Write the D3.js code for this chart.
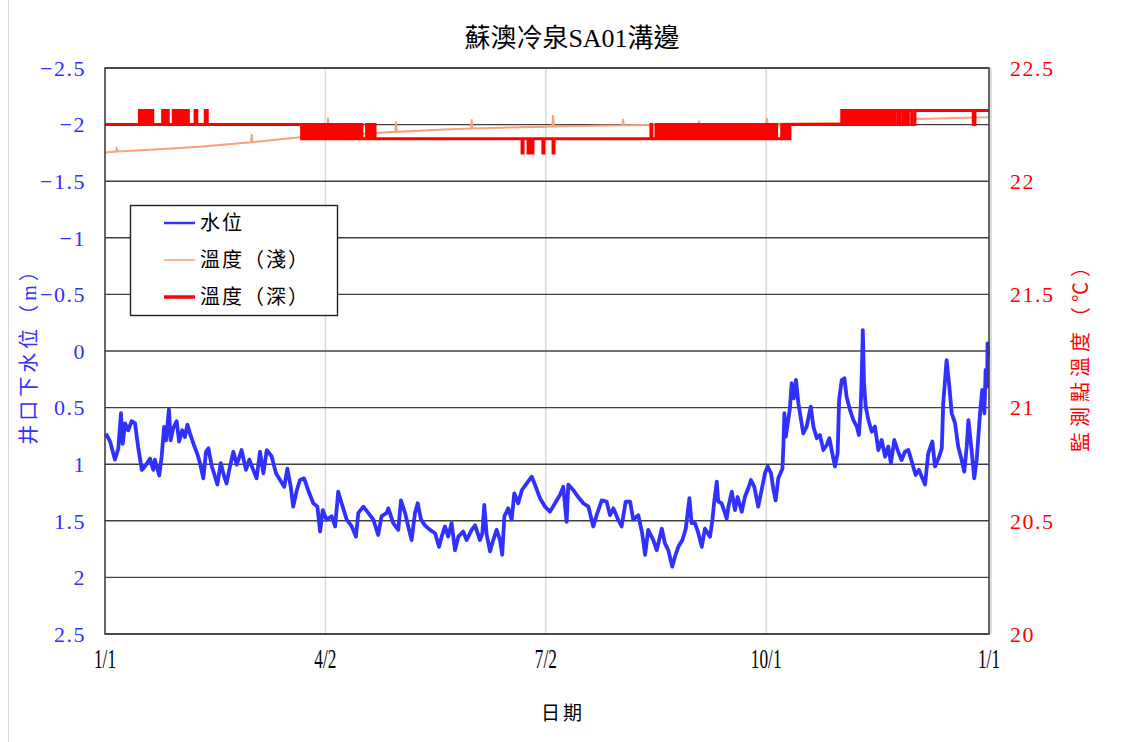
<!DOCTYPE html>
<html lang="zh-Hant">
<head>
<meta charset="UTF-8">
<title>蘇澳冷泉SA01溝邊</title>
<script src="https://cdn.jsdelivr.net/npm/d3@7"></script>
<style>
  body { margin: 0; background: #fff; }
  svg text { font-family: "Liberation Serif", "Noto Sans CJK TC", serif; }
</style>
</head>
<body>
<svg id="chart" width="1137" height="742"></svg>
<script>
// ---- values (x = day of year, 0 = 1/1) ----
var tickDays = [0, 91, 182, 273, 365];
var tickLabels = ["1/1", "4/2", "7/2", "10/1", "1/1"];
var levelTicks = [-2.5, -2, -1.5, -1, -0.5, 0, 0.5, 1, 1.5, 2, 2.5];
var tempTicks = [20, 20.5, 21, 21.5, 22, 22.5];
var seriesNames = ["水位", "溫度（淺）", "溫度（深）"];

// 井口下水位 (m)
var waterLevel = [
  [0.4,0.73],[2.1,0.80],[4.1,0.96],[5.5,0.86],[6.6,0.55],[7.3,0.82],[8.3,0.64],[9.6,0.70],
  [11.0,0.62],[12.4,0.64],[13.7,0.85],[15.2,1.05],[16.5,1.02],[18.6,0.95],[19.9,1.05],[20.6,0.96],
  [22.4,1.10],[23.4,0.93],[24.4,0.67],[25.2,0.79],[26.4,0.515],[27.1,0.79],[28.2,0.68],[29.6,0.62],
  [30.6,0.80],[31.9,0.70],[33.0,0.76],[34.0,0.65],[35.1,0.73],[36.7,0.83],[38.3,0.92],[39.2,0.99],
  [40.6,1.125],[41.7,0.89],[42.7,0.86],[44.1,1.02],[45.0,1.08],[46.4,1.18],[47.8,0.99],[49.1,1.10],
  [50.2,1.17],[51.6,1.02],[53.0,0.89],[54.4,1.005],[56.4,0.875],[58.2,1.05],[59.6,0.96],[61.2,1.05],
  [62.6,1.125],[64.0,0.89],[65.4,1.08],[66.8,0.875],[68.8,0.93],[70.6,1.08],[72.3,1.14],[74.0,1.20],
  [75.3,1.04],[76.7,1.20],[77.7,1.375],[79.2,1.23],[80.5,1.14],[82.2,1.125],[83.9,1.23],[86.0,1.345],
  [87.7,1.375],[88.8,1.595],[89.9,1.405],[91.5,1.49],[93.6,1.46],[95.0,1.55],[96.3,1.243],[97.7,1.345],
  [99.8,1.49],[101.9,1.55],[103.6,1.64],[104.6,1.43],[106.7,1.375],[108.7,1.43],[110.8,1.49],[112.8,1.625],
  [114.2,1.46],[116.3,1.43],[117.0,1.39],[119.0,1.52],[121.1,1.58],[122.2,1.32],[123.9,1.43],[125.2,1.55],
  [126.6,1.67],[128.0,1.43],[129.1,1.345],[130.5,1.49],[132.1,1.54],[134.2,1.58],[136.3,1.61],[137.9,1.73],
  [139.0,1.64],[140.4,1.55],[141.7,1.64],[143.1,1.52],[144.5,1.76],[145.9,1.64],[147.9,1.595],[149.3,1.67],
  [151.4,1.58],[152.8,1.54],[154.8,1.67],[155.8,1.61],[156.6,1.36],[157.6,1.625],[159.0,1.77],[160.3,1.67],
  [161.7,1.58],[163.1,1.67],[164.0,1.80],[164.9,1.46],[166.5,1.39],[167.9,1.49],[169.0,1.257],[170.6,1.345],
  [172.1,1.23],[174.1,1.17],[176.2,1.11],[177.5,1.18],[179.6,1.30],[181.7,1.375],[183.7,1.42],[185.8,1.345],
  [187.9,1.27],[189.2,1.20],[190.6,1.51],[191.3,1.18],[193.4,1.23],[195.4,1.29],[197.5,1.345],[199.6,1.375],
  [201.6,1.55],[203.0,1.45],[205.1,1.32],[207.1,1.33],[208.5,1.45],[209.9,1.39],[211.9,1.49],[213.3,1.55],
  [215.0,1.33],[216.8,1.33],[218.1,1.49],[220.2,1.45],[221.8,1.61],[223.0,1.80],[224.3,1.58],[226.4,1.67],
  [227.8,1.76],[229.9,1.57],[231.2,1.70],[232.6,1.76],[234.2,1.905],[235.3,1.82],[236.7,1.73],[238.4,1.67],
  [239.8,1.57],[241.3,1.30],[242.2,1.52],[243.6,1.52],[245.0,1.61],[246.4,1.73],[247.7,1.57],[249.8,1.64],
  [250.8,1.49],[251.6,1.32],[252.6,1.155],[253.2,1.33],[254.6,1.345],[256.7,1.48],[257.4,1.375],[258.8,1.243],
  [260.1,1.405],[261.2,1.29],[262.9,1.42],[264.2,1.29],[265.6,1.213],[266.7,1.14],[268.1,1.20],[269.7,1.375],
  [271.1,1.23],[272.5,1.08],[273.6,1.02],[275.0,1.08],[275.9,1.213],[276.9,1.32],[278.0,1.125],[279.7,1.04],
  [280.1,0.845],[280.5,0.55],[281.1,0.757],[281.9,0.64],[282.8,0.506],[283.5,0.285],[284.4,0.418],[285.3,0.256],
  [286.3,0.462],[287.4,0.61],[288.3,0.727],[289.7,0.668],[291.4,0.492],[292.5,0.668],[293.9,0.771],[295.2,0.742],
  [296.6,0.875],[298.0,0.83],[299.1,0.771],[300.3,0.904],[301.4,1.02],[302.5,0.904],[303.1,0.433],[304.2,0.256],
  [305.3,0.241],[306.2,0.404],[307.6,0.52],[309.0,0.61],[310.4,0.668],[311.3,0.742],[312.0,0.506],[312.4,0.256],
  [312.9,-0.185],[313.4,0.285],[314.1,0.492],[315.2,0.61],[316.6,0.713],[317.9,0.668],[319.3,0.875],[320.7,0.786],
  [322.1,0.934],[323.4,0.845],[324.5,0.992],[325.9,0.786],[327.5,0.89],[328.9,0.963],[330.3,0.89],[331.7,0.875],
  [333.3,0.992],[334.7,1.095],[336.1,1.05],[337.5,1.125],[338.6,1.18],[339.9,0.904],[341.6,0.80],[342.7,1.02],
  [344.4,0.934],[345.5,0.86],[346.1,0.462],[347.5,0.08],[348.5,0.285],[349.6,0.55],[351.0,0.64],[352.3,0.845],
  [353.7,0.963],[354.8,1.066],[355.8,0.845],[356.5,0.61],[357.8,0.875],[358.9,1.125],[359.9,0.963],[361.3,0.55],
  [362.2,0.344],[363.1,0.55],[363.6,0.168],[364.2,0.315],[364.4,-0.068],[364.7,0.05]
];

// 溫度（淺） (°C)
var tempShallow = [
  [0,22.127],[4.5,22.131],[4.8,22.143],[5.2,22.131],[18.6,22.139],[39.2,22.152],[60.3,22.172],
  [60.6,22.208],[60.9,22.172],[80.5,22.194],[91.8,22.203],[92.1,22.28],[92.4,22.203],[112.3,22.213],
  [119.9,22.218],[120.2,22.263],[120.5,22.218],[142.4,22.229],[151.1,22.233],[151.4,22.273],[151.7,22.233],
  [182.5,22.241],[184.7,22.242],[185.0,22.292],[185.3,22.242],[213.6,22.247],[213.9,22.275],[214.2,22.247],
  [225.0,22.248],[245.0,22.250],[245.3,22.267],[245.6,22.250],[270.4,22.253],[273.1,22.253],[273.3,22.279],
  [273.6,22.253],[303.5,22.258],[335.3,22.275],[364.2,22.282],[365,22.283]
];

// 溫度（深） (°C), step values as logged
var tempDeep = [
  [0,22.25],[14.2,22.3125],[14.9,22.25],[15.5,22.3125],[16.2,22.25],[17.2,22.3125],[17.9,22.25],
  [18.9,22.3125],[19.7,22.25],[23.8,22.3125],[24.5,22.25],[25.2,22.3125],[26.1,22.25],[28.2,22.3125],
  [28.9,22.25],[29.9,22.3125],[30.7,22.25],[31.4,22.3125],[32.3,22.25],[33.4,22.3125],[34.4,22.25],
  [37.2,22.3125],[37.9,22.25],[41.4,22.3125],[42.2,22.25],
  [81.2,22.1875],[82.0,22.25],[82.8,22.1875],[83.7,22.25],[84.5,22.1875],[85.3,22.25],[86.2,22.1875],
  [87.1,22.25],[87.8,22.1875],[88.8,22.25],[89.6,22.1875],[90.4,22.25],[91.3,22.1875],[92.2,22.25],
  [93.0,22.1875],[93.8,22.25],[94.7,22.1875],[95.6,22.25],[96.4,22.1875],[97.2,22.25],[98.1,22.1875],
  [99.0,22.25],[99.8,22.1875],[100.6,22.25],[101.5,22.1875],[102.4,22.25],[103.2,22.1875],[104.0,22.25],
  [104.9,22.1875],[105.6,22.25],[106.1,22.1875],
  [108.0,22.25],[108.8,22.1875],[109.6,22.25],[110.4,22.1875],[111.0,22.25],[111.5,22.1875],
  [172.2,22.125],[172.6,22.1875],[174.7,22.125],[175.1,22.1875],[176.3,22.125],[176.7,22.1875],
  [180.8,22.125],[181.2,22.1875],[185.0,22.125],[185.4,22.1875],
  [225.4,22.25],[225.8,22.1875],
  [227.5,22.25],[228.4,22.1875],[229.2,22.25],[230.1,22.1875],[230.9,22.25],[231.7,22.1875],[232.6,22.25],
  [233.4,22.1875],[234.3,22.25],[235.1,22.1875],[235.9,22.25],[236.8,22.1875],[237.6,22.25],[238.5,22.1875],
  [239.3,22.25],[240.1,22.1875],[241.0,22.25],[241.8,22.1875],[242.7,22.25],[243.5,22.1875],[244.3,22.25],
  [245.2,22.1875],[246.0,22.25],[246.9,22.1875],[247.7,22.25],[248.5,22.1875],[249.4,22.25],[250.2,22.1875],
  [251.1,22.25],[251.9,22.1875],[252.7,22.25],[253.6,22.1875],[254.4,22.25],[255.3,22.1875],[256.1,22.25],
  [256.9,22.1875],[257.8,22.25],[258.6,22.1875],[259.5,22.25],[260.3,22.1875],[261.1,22.25],[262.0,22.1875],
  [262.8,22.25],[263.7,22.1875],[264.5,22.25],[265.3,22.1875],[266.2,22.25],[267.0,22.1875],[267.9,22.25],
  [268.7,22.1875],[269.5,22.25],[270.4,22.1875],[271.2,22.25],[272.1,22.1875],[272.9,22.25],[273.7,22.1875],
  [274.6,22.25],[275.4,22.1875],[276.3,22.25],[277.3,22.1875],
  [279.4,22.25],[280.2,22.1875],[281.0,22.25],[281.8,22.1875],[282.8,22.25],
  [304.2,22.3125],[305.1,22.25],[305.9,22.3125],[306.8,22.25],[307.6,22.3125],[308.5,22.25],[309.3,22.3125],
  [310.2,22.25],[311.0,22.3125],[311.9,22.25],[312.7,22.3125],[313.6,22.25],[314.4,22.3125],[315.3,22.25],
  [316.1,22.3125],[317.0,22.25],[317.8,22.3125],[318.7,22.25],[319.5,22.3125],[320.4,22.25],[321.2,22.3125],
  [322.1,22.25],[322.9,22.3125],[323.8,22.25],[324.6,22.3125],[325.5,22.25],[326.3,22.3125],
  [327.6,22.25],[328.3,22.3125],[329.6,22.25],[330.3,22.3125],[331.0,22.25],[331.7,22.3125],
  [333.1,22.25],[334.4,22.3125],[358.5,22.25],[359.2,22.3125],[365,22.3125]
];

// ---- chart ----
var svg = d3.select("#chart");
var plotL = 105, plotR = 989, plotT = 68, plotB = 634;

var x = d3.scaleLinear().domain([0, 365]).range([plotL, plotR]);
var yLevel = d3.scaleLinear().domain([-2.5, 2.5]).range([plotT, plotB]);   // reversed: -2.5 at top
var yTemp = d3.scaleLinear().domain([20, 22.5]).range([plotB, plotT]);

var blue = "#3030ff", red = "#ff0000", orange = "#f6a27a";

// outer chart frame (only the left edge is in view)
svg.append("rect")
    .attr("x", 8.5).attr("y", -5)
    .attr("width", 1140).attr("height", 760)
    .attr("fill", "none").attr("stroke", "#d9d9d9").attr("stroke-width", 1);

// vertical gridlines
svg.append("g").selectAll("line")
    .data(tickDays.slice(1, -1))
    .enter().append("line")
    .attr("x1", function(d) { return x(d); })
    .attr("x2", function(d) { return x(d); })
    .attr("y1", plotT).attr("y2", plotB)
    .attr("stroke", "#d9d9d9").attr("stroke-width", 1.5);

// horizontal gridlines
svg.append("g").selectAll("line")
    .data(levelTicks)
    .enter().append("line")
    .attr("x1", plotL).attr("x2", plotR)
    .attr("y1", function(d) { return yLevel(d); })
    .attr("y2", function(d) { return yLevel(d); })
    .attr("stroke", "#404040").attr("stroke-width", 1.4);

// series
var levelLine = d3.line()
    .x(function(d) { return x(d[0]); })
    .y(function(d) { return yLevel(d[1]); });
var tempLine = d3.line()
    .x(function(d) { return x(d[0]); })
    .y(function(d) { return yTemp(d[1]); });

svg.append("path").datum(waterLevel)
    .attr("d", levelLine)
    .attr("fill", "none").attr("stroke", blue)
    .attr("stroke-width", 3.8).attr("stroke-linejoin", "round");

svg.append("path").datum(tempShallow)
    .attr("d", tempLine)
    .attr("fill", "none").attr("stroke", orange)
    .attr("stroke-width", 2);

svg.append("path").datum(tempDeep)
    .attr("d", tempLine.curve(d3.curveStepAfter))
    .attr("fill", "none").attr("stroke", red)
    .attr("stroke-width", 3);

// plot border
svg.append("rect")
    .attr("x", plotL).attr("y", plotT)
    .attr("width", plotR - plotL).attr("height", plotB - plotT)
    .attr("fill", "none").attr("stroke", "#404040").attr("stroke-width", 1.6);
svg.append("line")
    .attr("x1", plotR + 2).attr("x2", plotR + 2).attr("y1", plotT).attr("y2", plotB)
    .attr("stroke", "#c8c8c8").attr("stroke-width", 1.2);

// left axis labels
var fmt = d3.format("");
svg.append("g").selectAll("text")
    .data(levelTicks)
    .enter().append("text")
    .attr("x", 86)
    .attr("y", function(d) { return yLevel(d); })
    .attr("dy", "0.35em")
    .attr("text-anchor", "end")
    .attr("fill", blue)
    .style("font-size", "22px")
    .style("letter-spacing", "1.5px")
    .text(function(d) { return fmt(d); });

// right axis labels
svg.append("g").selectAll("text")
    .data(tempTicks)
    .enter().append("text")
    .attr("x", 1010)
    .attr("y", function(d) { return yTemp(d); })
    .attr("dy", "0.35em")
    .attr("fill", red)
    .style("font-size", "22px")
    .style("letter-spacing", "1.5px")
    .text(function(d) { return fmt(d); });

// x axis labels (narrow face in the original)
svg.append("g").selectAll("text")
    .data(tickDays)
    .enter().append("text")
    .attr("transform", function(d) { return "translate(" + x(d) + ",668) scale(0.64,1)"; })
    .attr("text-anchor", "middle")
    .attr("fill", "#000")
    .style("font-size", "27px")
    .text(function(d, i) { return tickLabels[i]; });

// titles
svg.append("text")
    .attr("x", 572).attr("y", 47)
    .attr("text-anchor", "middle")
    .style("font-size", "26px")
    .text("蘇澳冷泉SA01溝邊");

svg.append("text")
    .attr("x", 563).attr("y", 720)
    .attr("text-anchor", "middle")
    .style("font-size", "19px")
    .style("letter-spacing", "3px")
    .text("日期");

svg.append("text")
    .attr("transform", "translate(36,351) rotate(-90)")
    .attr("text-anchor", "middle")
    .attr("fill", blue)
    .style("font-size", "20px")
    .style("letter-spacing", "4px")
    .text("井口下水位（m）");

svg.append("text")
    .attr("transform", "translate(1088,352) rotate(-90)")
    .attr("text-anchor", "middle")
    .attr("fill", red)
    .style("font-size", "20px")
    .style("letter-spacing", "5px")
    .text("監測點溫度（℃）");

// legend
var legend = svg.append("g").attr("id", "legend");
legend.append("rect")
    .attr("x", 130.5).attr("y", 205.5)
    .attr("width", 207).attr("height", 110)
    .attr("fill", "#fff").attr("stroke", "#222").attr("stroke-width", 1.4);

var legendColors = [blue, orange, red];
var legendWidths = [2.5, 1.5, 3.5];
var entry = legend.selectAll("g.entry")
    .data(seriesNames)
    .enter().append("g")
    .attr("class", "entry")
    .attr("transform", function(d, i) { return "translate(0," + (223 + i * 37) + ")"; });
entry.append("line")
    .attr("x1", 164).attr("x2", 195)
    .attr("stroke", function(d, i) { return legendColors[i]; })
    .attr("stroke-width", function(d, i) { return legendWidths[i]; });
entry.append("text")
    .attr("x", 200).attr("dy", "0.36em")
    .style("font-size", "20px")
    .style("letter-spacing", "2px")
    .text(function(d) { return d; });
</script>
</body>
</html>
